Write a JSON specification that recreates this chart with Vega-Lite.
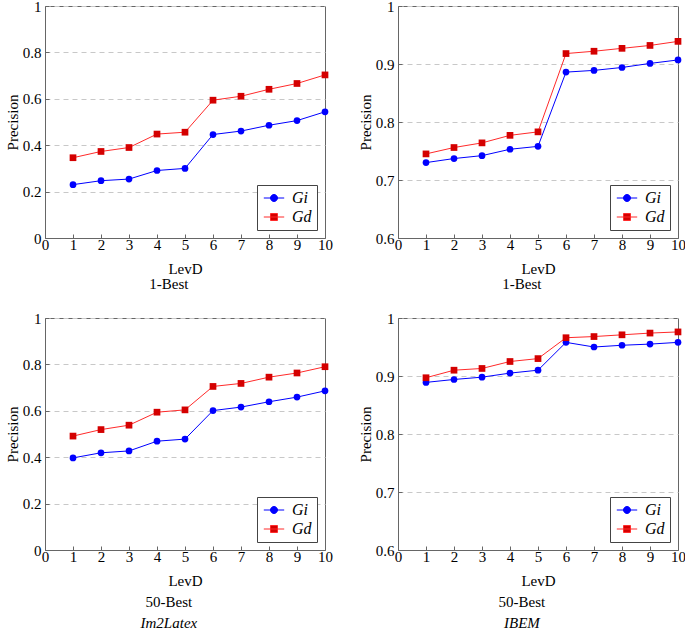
{
  "$schema": "https://vega.github.io/schema/vega-lite/v6.json",
  "padding": {"top": -2, "left": 4, "right": 2, "bottom": 0},
  "datasets": {
    "p1": [
      {"x":1,"s":"Gi","y":0.230},{"x":2,"s":"Gi","y":0.247},{"x":3,"s":"Gi","y":0.254},{"x":4,"s":"Gi","y":0.291},{"x":5,"s":"Gi","y":0.300},
      {"x":6,"s":"Gi","y":0.446},{"x":7,"s":"Gi","y":0.461},{"x":8,"s":"Gi","y":0.486},{"x":9,"s":"Gi","y":0.506},{"x":10,"s":"Gi","y":0.544},
      {"x":1,"s":"Gd","y":0.346},{"x":2,"s":"Gd","y":0.373},{"x":3,"s":"Gd","y":0.390},{"x":4,"s":"Gd","y":0.448},{"x":5,"s":"Gd","y":0.456},
      {"x":6,"s":"Gd","y":0.594},{"x":7,"s":"Gd","y":0.611},{"x":8,"s":"Gd","y":0.641},{"x":9,"s":"Gd","y":0.666},{"x":10,"s":"Gd","y":0.703}
    ],
    "p2": [
      {"x":1,"s":"Gi","y":0.730},{"x":2,"s":"Gi","y":0.737},{"x":3,"s":"Gi","y":0.742},{"x":4,"s":"Gi","y":0.753},{"x":5,"s":"Gi","y":0.758},
      {"x":6,"s":"Gi","y":0.886},{"x":7,"s":"Gi","y":0.889},{"x":8,"s":"Gi","y":0.894},{"x":9,"s":"Gi","y":0.901},{"x":10,"s":"Gi","y":0.907},
      {"x":1,"s":"Gd","y":0.745},{"x":2,"s":"Gd","y":0.756},{"x":3,"s":"Gd","y":0.764},{"x":4,"s":"Gd","y":0.777},{"x":5,"s":"Gd","y":0.783},
      {"x":6,"s":"Gd","y":0.918},{"x":7,"s":"Gd","y":0.922},{"x":8,"s":"Gd","y":0.927},{"x":9,"s":"Gd","y":0.932},{"x":10,"s":"Gd","y":0.939}
    ],
    "p3": [
      {"x":1,"s":"Gi","y":0.397},{"x":2,"s":"Gi","y":0.419},{"x":3,"s":"Gi","y":0.427},{"x":4,"s":"Gi","y":0.469},{"x":5,"s":"Gi","y":0.478},
      {"x":6,"s":"Gi","y":0.601},{"x":7,"s":"Gi","y":0.616},{"x":8,"s":"Gi","y":0.639},{"x":9,"s":"Gi","y":0.659},{"x":10,"s":"Gi","y":0.686},
      {"x":1,"s":"Gd","y":0.491},{"x":2,"s":"Gd","y":0.519},{"x":3,"s":"Gd","y":0.538},{"x":4,"s":"Gd","y":0.594},{"x":5,"s":"Gd","y":0.604},
      {"x":6,"s":"Gd","y":0.705},{"x":7,"s":"Gd","y":0.718},{"x":8,"s":"Gd","y":0.745},{"x":9,"s":"Gd","y":0.763},{"x":10,"s":"Gd","y":0.790}
    ],
    "p4": [
      {"x":1,"s":"Gi","y":0.889},{"x":2,"s":"Gi","y":0.894},{"x":3,"s":"Gi","y":0.898},{"x":4,"s":"Gi","y":0.905},{"x":5,"s":"Gi","y":0.910},
      {"x":6,"s":"Gi","y":0.958},{"x":7,"s":"Gi","y":0.950},{"x":8,"s":"Gi","y":0.953},{"x":9,"s":"Gi","y":0.955},{"x":10,"s":"Gi","y":0.958},
      {"x":1,"s":"Gd","y":0.897},{"x":2,"s":"Gd","y":0.910},{"x":3,"s":"Gd","y":0.913},{"x":4,"s":"Gd","y":0.925},{"x":5,"s":"Gd","y":0.930},
      {"x":6,"s":"Gd","y":0.966},{"x":7,"s":"Gd","y":0.968},{"x":8,"s":"Gd","y":0.971},{"x":9,"s":"Gd","y":0.974},{"x":10,"s":"Gd","y":0.976}
    ]
  },
  "columns": 2,
  "spacing": {"row": 17, "column": 24},
  "resolve": {
    "scale": {"x": "independent", "y": "independent", "color": "independent"},
    "legend": {"color": "independent"}
  },
  "concat": [
    {
      "width": 280, "height": 232,
      "data": {"name": "p1"},
      "title": {"text": "1-Best", "offset": 1},
      "encoding": {
        "x": {"field": "x", "type": "quantitative", "scale": {"domain": [0, 10], "nice": false}, "axis": {"values": [0,1,2,3,4,5,6,7,8,9,10], "title": "LevD", "format": "d"}},
        "y": {"field": "y", "type": "quantitative", "scale": {"domain": [0, 1], "nice": false, "zero": false}, "axis": {"values": [0,0.2,0.4,0.6,0.8,1], "title": "Precision"}}
      },
      "layer": [
        {"mark": {"type": "line", "strokeWidth": 1}, "encoding": {"color": {"field": "s", "type": "nominal", "scale": {"domain": ["Gi","Gd"], "range": ["#0000ff","#ff2a2a"]},
          "legend": {"encode": {"symbols": {"update": {
            "shape": {"signal": "datum.value == 'Gi' ? 'M-1.7,0H1.7M0.58,0A0.58,0.58 0 1,1 -0.58,0A0.58,0.58 0 1,1 0.58,0Z' : 'M-1.7,0H1.7M-0.58,-0.58H0.58V0.58H-0.58Z'"},
            "fill": {"signal": "datum.value == 'Gi' ? '#0000ff' : '#d40000'"},
            "stroke": {"signal": "datum.value == 'Gi' ? '#0000ff' : '#ff2a2a'"},
            "strokeWidth": {"value": 1}, "opacity": {"value": 1}}}}}}}},
        {"mark": {"type": "point", "filled": true, "opacity": 1, "size": 45}, "encoding": {
          "fill": {"condition": {"test": "datum.s == 'Gi'", "value": "#0000ff"}, "value": "#d40000"},
          "shape": {"condition": {"test": "datum.s == 'Gi'", "value": "circle"}, "value": "square"}}}
      ]
    },
    {
      "width": 280, "height": 232,
      "data": {"name": "p2"},
      "title": {"text": "1-Best", "offset": 1},
      "encoding": {
        "x": {"field": "x", "type": "quantitative", "scale": {"domain": [0, 10], "nice": false}, "axis": {"values": [0,1,2,3,4,5,6,7,8,9,10], "title": "LevD", "format": "d"}},
        "y": {"field": "y", "type": "quantitative", "scale": {"domain": [0.6, 1], "nice": false, "zero": false}, "axis": {"values": [0.6,0.7,0.8,0.9,1], "title": "Precision"}}
      },
      "layer": [
        {"mark": {"type": "line", "strokeWidth": 1}, "encoding": {"color": {"field": "s", "type": "nominal", "scale": {"domain": ["Gi","Gd"], "range": ["#0000ff","#ff2a2a"]},
          "legend": {"encode": {"symbols": {"update": {
            "shape": {"signal": "datum.value == 'Gi' ? 'M-1.7,0H1.7M0.58,0A0.58,0.58 0 1,1 -0.58,0A0.58,0.58 0 1,1 0.58,0Z' : 'M-1.7,0H1.7M-0.58,-0.58H0.58V0.58H-0.58Z'"},
            "fill": {"signal": "datum.value == 'Gi' ? '#0000ff' : '#d40000'"},
            "stroke": {"signal": "datum.value == 'Gi' ? '#0000ff' : '#ff2a2a'"},
            "strokeWidth": {"value": 1}, "opacity": {"value": 1}}}}}}}},
        {"mark": {"type": "point", "filled": true, "opacity": 1, "size": 45}, "encoding": {
          "fill": {"condition": {"test": "datum.s == 'Gi'", "value": "#0000ff"}, "value": "#d40000"},
          "shape": {"condition": {"test": "datum.s == 'Gi'", "value": "circle"}, "value": "square"}}}
      ]
    },
    {
      "width": 280, "height": 232,
      "data": {"name": "p3"},
      "title": {"text": "50-Best", "subtitle": "Im2Latex", "offset": 7},
      "encoding": {
        "x": {"field": "x", "type": "quantitative", "scale": {"domain": [0, 10], "nice": false}, "axis": {"values": [0,1,2,3,4,5,6,7,8,9,10], "title": "LevD", "format": "d"}},
        "y": {"field": "y", "type": "quantitative", "scale": {"domain": [0, 1], "nice": false, "zero": false}, "axis": {"values": [0,0.2,0.4,0.6,0.8,1], "title": "Precision"}}
      },
      "layer": [
        {"mark": {"type": "line", "strokeWidth": 1}, "encoding": {"color": {"field": "s", "type": "nominal", "scale": {"domain": ["Gi","Gd"], "range": ["#0000ff","#ff2a2a"]},
          "legend": {"encode": {"symbols": {"update": {
            "shape": {"signal": "datum.value == 'Gi' ? 'M-1.7,0H1.7M0.58,0A0.58,0.58 0 1,1 -0.58,0A0.58,0.58 0 1,1 0.58,0Z' : 'M-1.7,0H1.7M-0.58,-0.58H0.58V0.58H-0.58Z'"},
            "fill": {"signal": "datum.value == 'Gi' ? '#0000ff' : '#d40000'"},
            "stroke": {"signal": "datum.value == 'Gi' ? '#0000ff' : '#ff2a2a'"},
            "strokeWidth": {"value": 1}, "opacity": {"value": 1}}}}}}}},
        {"mark": {"type": "point", "filled": true, "opacity": 1, "size": 45}, "encoding": {
          "fill": {"condition": {"test": "datum.s == 'Gi'", "value": "#0000ff"}, "value": "#d40000"},
          "shape": {"condition": {"test": "datum.s == 'Gi'", "value": "circle"}, "value": "square"}}}
      ]
    },
    {
      "width": 280, "height": 232,
      "data": {"name": "p4"},
      "title": {"text": "50-Best", "subtitle": "IBEM", "offset": 7},
      "encoding": {
        "x": {"field": "x", "type": "quantitative", "scale": {"domain": [0, 10], "nice": false}, "axis": {"values": [0,1,2,3,4,5,6,7,8,9,10], "title": "LevD", "format": "d"}},
        "y": {"field": "y", "type": "quantitative", "scale": {"domain": [0.6, 1], "nice": false, "zero": false}, "axis": {"values": [0.6,0.7,0.8,0.9,1], "title": "Precision"}}
      },
      "layer": [
        {"mark": {"type": "line", "strokeWidth": 1}, "encoding": {"color": {"field": "s", "type": "nominal", "scale": {"domain": ["Gi","Gd"], "range": ["#0000ff","#ff2a2a"]},
          "legend": {"encode": {"symbols": {"update": {
            "shape": {"signal": "datum.value == 'Gi' ? 'M-1.7,0H1.7M0.58,0A0.58,0.58 0 1,1 -0.58,0A0.58,0.58 0 1,1 0.58,0Z' : 'M-1.7,0H1.7M-0.58,-0.58H0.58V0.58H-0.58Z'"},
            "fill": {"signal": "datum.value == 'Gi' ? '#0000ff' : '#d40000'"},
            "stroke": {"signal": "datum.value == 'Gi' ? '#0000ff' : '#ff2a2a'"},
            "strokeWidth": {"value": 1}, "opacity": {"value": 1}}}}}}}},
        {"mark": {"type": "point", "filled": true, "opacity": 1, "size": 45}, "encoding": {
          "fill": {"condition": {"test": "datum.s == 'Gi'", "value": "#0000ff"}, "value": "#d40000"},
          "shape": {"condition": {"test": "datum.s == 'Gi'", "value": "circle"}, "value": "square"}}}
      ]
    }
  ],
  "config": {
    "font": "Liberation Serif",
    "view": {"stroke": "#666666", "strokeWidth": 1},
    "axis": {
      "labelFont": "Liberation Serif", "labelFontSize": 15, "labelColor": "#000",
      "titleFont": "Liberation Serif", "titleFontSize": 15, "titleFontWeight": "normal", "titleColor": "#000",
      "domainColor": "#666666", "tickColor": "#666666", "tickSize": -4, "labelPadding": 8,
      "format": "~g", "labelFlush": false, "labelOverlap": false, "labelBound": false
    },
    "axisX": {"grid": false, "titlePadding": 9, "labelPadding": 3},
    "axisY": {"grid": true, "gridColor": "#c8c8c8", "gridDash": [5, 4], "titlePadding": 2},
    "legend": {
      "orient": "bottom-right", "offset": 8, "title": null,
      "strokeColor": "#444", "fillColor": "#ffffff", "padding": 5,
      "symbolSize": 144, "symbolOffset": 4, "labelFont": "Liberation Serif", "labelFontSize": 16, "labelFontStyle": "italic",
      "rowPadding": 3, "labelOffset": 10
    },
    "title": {
      "orient": "bottom", "frame": "bounds", "anchor": "middle",
      "font": "Liberation Serif", "fontSize": 15, "fontWeight": "normal", "color": "#000",
      "subtitleFont": "Liberation Serif", "subtitleFontSize": 15, "subtitleFontStyle": "italic", "subtitleColor": "#000", "subtitlePadding": 6
    }
  }
}
